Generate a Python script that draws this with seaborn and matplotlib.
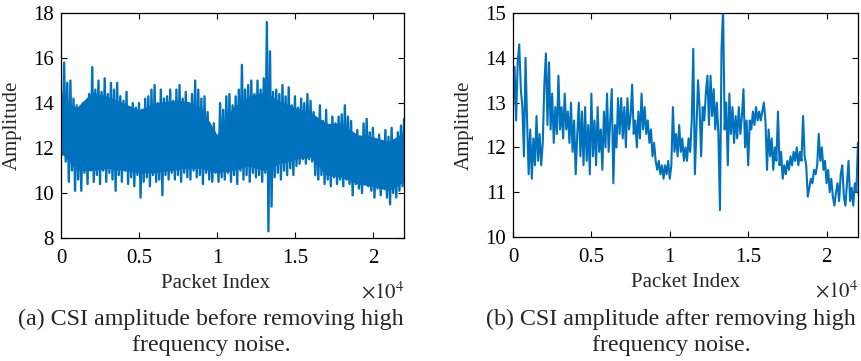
import numpy as np
import pandas as pd
import seaborn as sns
import matplotlib.pyplot as plt

# (a) raw CSI amplitude: local peaks (every 200 packets from 0) and troughs (every 200 from 100)
raw_peaks = [14.5, 15.8, 14.9, 15.0, 14.2, 13.9, 13.8, 14.0, 13.9, 14.4,
             15.6, 14.6, 15.0, 14.5, 15.1, 14.4, 14.9, 14.6, 14.9, 14.3,
             14.1, 14.5, 13.6, 14.0, 13.8, 14.0, 13.7, 14.2, 14.3, 14.6,
             14.8, 14.0, 14.6, 14.2, 14.3, 14.6, 14.1, 14.6, 14.8, 14.2,
             14.5, 14.0, 14.4, 15.0, 14.6, 14.2, 14.3, 13.6, 12.9, 13.1,
             12.5, 14.0, 13.7, 14.3, 14.4, 13.9, 14.3, 14.6, 15.7, 14.6,
             14.8, 15.0, 14.4, 15.0, 14.6, 15.1, 17.6, 16.3, 14.5, 14.6,
             14.4, 14.8, 14.3, 14.7, 13.9, 14.3, 13.8, 14.2, 14.0, 14.4,
             14.1, 13.6, 13.3, 13.9, 13.2, 13.7, 13.0, 13.4, 13.1, 13.4,
             13.5, 13.9, 13.4, 13.2, 12.6, 12.8, 12.4, 13.1, 13.3, 12.7,
             12.9, 12.3, 12.6, 12.2, 12.8, 12.5, 12.9, 12.1, 12.7, 13.0,
             13.3]
raw_troughs = [11.7, 11.4, 10.5, 11.0, 10.1, 10.6, 10.1, 10.9, 10.4, 11.0,
               10.5, 10.8, 10.4, 11.0, 10.5, 10.9, 10.6, 10.1, 10.8, 10.5,
               11.0, 10.4, 10.7, 10.3, 10.8, 9.8, 10.5, 10.7, 10.3, 10.8,
               10.5, 10.6, 9.9, 10.8, 10.6, 10.9, 10.6, 10.8, 10.5, 10.9,
               10.7, 10.6, 11.0, 10.7, 10.8, 10.4, 10.9, 10.6, 10.5, 10.9,
               10.5, 10.7, 10.6, 10.9, 10.5, 10.8, 10.4, 11.0, 10.6, 10.8,
               10.5, 10.9, 10.7, 10.8, 10.5, 10.9, 8.3, 9.4, 10.7, 10.9,
               10.6, 11.0, 10.8, 11.1, 10.8, 11.2, 11.3, 11.5, 11.3, 11.5,
               11.4, 10.8, 10.6, 10.8, 10.4, 10.6, 10.3, 10.7, 10.4, 10.6,
               10.3, 10.6, 10.4, 9.9, 10.4, 10.2, 10.0, 10.5, 10.3, 10.1,
               9.8, 10.2, 9.9, 10.3, 9.8, 9.5, 10.0, 9.8, 10.1, 10.3]
# (a) solid core of the noisy band, every 1000 packets
core_hi = [14.2, 13.8, 14.5, 14.3, 14.0, 13.7, 14.0, 14.1, 14.1, 13.8, 12.6, 13.8,
           14.3, 14.5, 14.1, 13.8, 13.6, 13.1, 13.1, 12.6, 12.5, 12.3, 12.7]
core_lo = [11.8, 11.0, 11.0, 11.1, 11.0, 10.9, 10.9, 11.0, 11.1, 11.1, 10.9, 11.0,
           11.2, 11.0, 11.3, 11.5, 11.6, 10.8, 10.7, 10.4, 10.3, 10.1, 10.5]

# (b) filtered CSI amplitude, one value every 100 packets
filtered = [12.9, 13.8, 12.6, 13.9, 14.3, 13.3, 12.9, 11.8, 14.0, 12.6,
            11.4, 12.4, 11.3, 12.2, 11.6, 12.7, 11.7, 12.3, 11.6, 12.1,
            13.4, 14.1, 12.5, 13.9, 12.4, 13.2, 12.1, 12.9, 12.3, 13.6,
            12.4, 12.9, 12.2, 13.2, 12.4, 12.8, 12.1, 13.0, 11.9, 12.6,
            11.4, 12.3, 13.0, 11.8, 12.8, 11.6, 12.9, 11.7, 12.5, 11.4,
            13.2, 11.8, 12.6, 11.6, 12.9, 11.9, 12.4, 11.5, 12.8, 12.0,
            13.2, 11.9, 12.6, 13.3, 11.2, 12.5, 12.0, 13.1, 12.3, 13.1,
            12.2, 12.9, 12.0, 13.1, 12.4, 12.7, 13.4, 12.3, 12.6, 12.0,
            12.8, 12.2, 13.2, 12.4, 12.9, 12.3, 12.6, 12.1, 12.4, 11.8,
            12.1, 11.7, 11.5, 11.7, 11.4, 11.6, 11.3, 11.6, 11.4, 11.7,
            11.3, 11.6, 12.9, 11.9, 12.3, 11.8, 12.5, 11.9, 12.2, 11.7,
            12.0, 11.7, 12.2, 11.9, 12.6, 14.2, 11.4, 12.4, 13.5, 12.9,
            11.8, 12.9, 12.6, 13.2, 13.6, 12.5, 13.6, 12.7, 13.3, 12.4,
            13.0, 12.3, 10.6, 14.2, 15.1, 12.4, 13.0, 11.6, 13.2, 12.3,
            12.9, 12.1, 12.7, 12.2, 12.9, 12.3, 12.7, 13.3, 12.0, 12.6,
            11.6, 12.6, 12.4, 12.8, 12.5, 12.9, 12.6, 12.8, 12.6, 12.8,
            13.0, 12.6, 11.5, 12.4, 11.8, 12.2, 11.5, 12.0, 11.7, 12.8,
            11.6, 11.9, 11.3, 11.6, 11.4, 11.7, 11.5, 11.8, 11.6, 11.9,
            11.7, 12.0, 11.6, 11.9, 11.7, 12.7, 11.8, 11.6, 10.9, 11.1,
            11.3, 11.2, 11.5, 11.4, 11.6, 12.3, 11.7, 12.0, 11.5, 11.7,
            11.2, 11.5, 11.0, 11.3, 10.9, 10.7, 11.0, 11.2, 10.8, 11.4,
            11.6, 10.9, 10.7, 11.2, 11.7, 10.8, 11.1, 10.7, 11.2, 11.0,
            12.1]

step = 100
raw = []
for k in range(len(raw_peaks)):
    raw.append(raw_peaks[k])
    if k < len(raw_troughs):
        raw.append(raw_troughs[k])

df_a = pd.DataFrame({'packet': np.arange(len(raw)) * step, 'amp': raw})
df_b = pd.DataFrame({'packet': np.arange(len(filtered)) * step, 'amp': filtered})
core_x = np.arange(len(core_hi)) * 1000

sns.set_style('ticks')
plt.rcParams['font.family'] = ['Liberation Serif', 'DejaVu Serif']
plt.rcParams['mathtext.fontset'] = 'stix'

color = '#0072BD'
fig = plt.figure(figsize=(8.62, 3.61), dpi=100)
ax_a = fig.add_axes([0.0708, 0.3407, 0.398, 0.623])
ax_b = fig.add_axes([0.5951, 0.3435, 0.4002, 0.6205])

ax_a.fill_between(core_x, core_lo, core_hi, color=color, linewidth=0)
sns.lineplot(data=df_a, x='packet', y='amp', ax=ax_a, color=color, linewidth=1.7)
sns.lineplot(data=df_b, x='packet', y='amp', ax=ax_b, color=color, linewidth=1.5)

setups = [
    (ax_a, (8, 18), [8, 10, 12, 14, 16, 18], 0.449,
     ['(a) CSI amplitude before removing high', 'frequency noise.'], 211),
    (ax_b, (10, 15), [10, 11, 12, 13, 14, 15], 0.5,
     ['(b) CSI amplitude after removing high', 'frequency noise.'], 671),
]
for ax, ylim, yticks, xl, caption, cx in setups:
    ax.set_xlim(0, 22000)
    ax.set_ylim(*ylim)
    ax.set_yticks(yticks)
    ax.set_xticks([0, 5000, 10000, 15000, 20000])
    ax.set_xticklabels(['0', '0.5', '1', '1.5', '2'])
    ax.tick_params(direction='in', length=4, width=0.8, labelsize=15,
                   top=True, right=True, colors='black')
    ax.tick_params(axis='x', pad=8)
    ax.tick_params(axis='y', pad=5)
    for s in ax.spines.values():
        s.set_visible(True)
        s.set_linewidth(0.9)
        s.set_color('black')
    ax.set_xlabel('Packet Index', fontsize=15)
    ax.set_ylabel('Amplitude', fontsize=15)
    ax.xaxis.set_label_coords(xl, -0.16)
    ax.yaxis.set_label_coords(-0.113, 0.5)
    ax.text(1.0, -0.27, r'$\times10^4$', transform=ax.transAxes,
            ha='right', va='baseline', fontsize=15)
    fig.text(cx / 862, 1 - 325 / 361, caption[0], ha='center', va='baseline', fontsize=17.3)
    fig.text(cx / 862, 1 - 351 / 361, caption[1], ha='center', va='baseline', fontsize=17.3)

fig.savefig('out.png', dpi=100)
